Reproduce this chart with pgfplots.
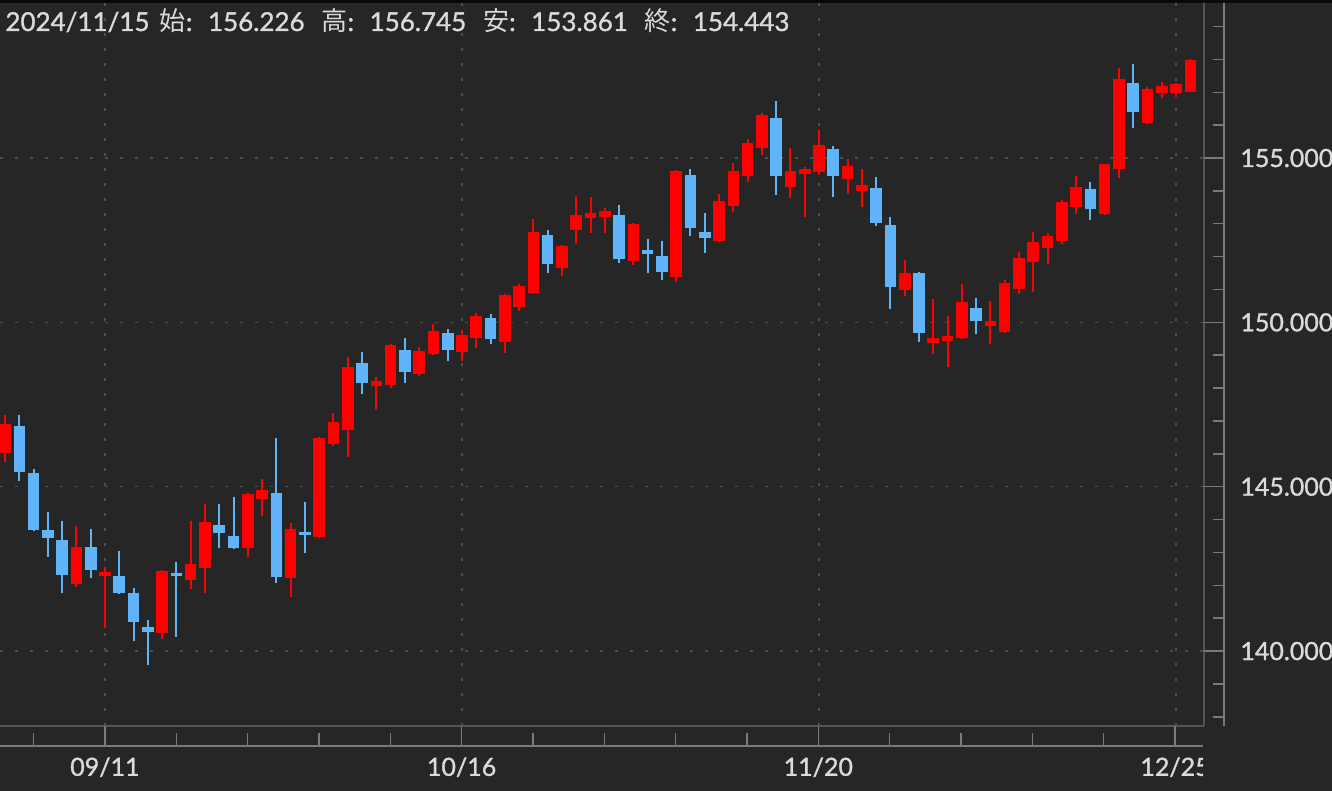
\documentclass[border=0pt]{standalone}
\usepackage{pgfplots}
\pgfplotsset{compat=1.18}
\usepackage{pgfplotstable}
\usepackage{fontspec}
\setmainfont{Lato}
\newfontfamily\medfont{Lato}[FakeBold=1.2]
\newfontfamily\cjk{Noto Sans CJK JP}
\definecolor{bg}{HTML}{262626}
\definecolor{gridc}{HTML}{4E4E4E}
\definecolor{border}{HTML}{555555}
\definecolor{axisc}{HTML}{7A7A7A}
\definecolor{txt}{HTML}{DADADA}
\definecolor{upred}{HTML}{FF0000}
\definecolor{dnblue}{HTML}{5FB4FA}

\pgfplotstableread{
i O H L C
-7 146.02 147.18 145.76 146.91
-2 142.04 143.80 141.96 143.18
0 142.29 142.57 140.69 142.41
4 140.54 142.47 140.36 142.44
6 142.16 143.97 141.88 142.65
7 142.52 144.47 141.76 143.94
10 143.13 144.80 142.87 144.78
11 144.64 145.23 144.11 144.90
13 142.21 143.90 141.64 143.70
15 143.48 146.52 143.43 146.49
16 146.29 147.23 146.25 146.96
17 146.73 148.96 145.91 148.65
19 148.06 148.35 147.33 148.22
20 148.09 149.33 147.99 149.31
22 148.43 149.26 148.38 149.14
23 149.04 149.94 149.02 149.74
25 149.11 149.77 148.83 149.62
26 149.53 150.29 149.23 150.20
28 149.41 150.85 149.06 150.83
29 150.46 151.17 150.35 151.11
30 150.88 153.14 150.86 152.74
32 151.64 152.35 151.41 152.32
33 152.81 153.84 152.38 153.27
34 153.17 153.82 152.71 153.34
35 153.21 153.47 152.71 153.39
37 151.87 153.03 151.75 152.98
40 151.39 154.63 151.24 154.61
43 152.49 153.91 152.45 153.70
44 153.55 154.84 153.37 154.61
45 154.45 155.57 154.28 155.45
46 155.30 156.36 155.09 156.31
48 154.13 155.30 153.77 154.60
49 154.51 154.72 153.21 154.66
50 154.58 155.85 154.48 155.40
52 154.35 154.96 153.91 154.77
53 154.01 154.66 153.50 154.18
56 150.98 151.90 150.80 151.51
58 149.38 150.70 149.04 149.53
59 149.44 150.19 148.63 149.58
60 149.52 151.17 149.49 150.63
62 149.90 150.65 149.34 150.04
63 149.70 151.29 149.67 151.19
64 151.01 152.15 150.86 151.95
65 151.85 152.76 150.93 152.45
66 152.25 152.73 151.78 152.63
67 152.49 153.72 152.38 153.65
68 153.50 154.45 153.30 154.13
70 153.30 154.83 153.28 154.81
71 154.67 157.73 154.40 157.39
73 156.06 157.17 156.04 157.10
74 156.99 157.32 156.82 157.19
75 156.97 157.27 156.87 157.25
76 157.02 158.00 157.00 157.98
}\up

\pgfplotstableread{
i O H L C
-6 146.85 147.18 145.17 145.46
-5 145.41 145.54 143.65 143.68
-4 143.68 144.22 142.87 143.43
-3 143.38 143.97 141.78 142.31
-1 143.16 143.70 142.21 142.47
1 142.28 143.05 141.75 141.78
2 141.78 141.91 140.32 140.87
3 140.74 140.94 139.58 140.57
5 142.38 142.72 140.44 142.28
8 143.84 144.47 143.13 143.58
9 143.50 144.70 143.10 143.13
12 144.82 146.47 142.08 142.26
14 143.61 144.54 142.97 143.53
18 148.75 149.09 147.82 148.15
21 149.16 149.53 148.16 148.50
24 149.69 149.79 148.82 149.16
27 150.12 150.24 149.33 149.48
31 152.66 152.81 151.51 151.78
36 153.27 153.57 151.80 151.92
38 152.20 152.53 151.49 152.08
39 152.02 152.49 151.29 151.54
41 154.48 154.66 152.64 152.88
42 152.76 153.32 152.10 152.56
47 156.226 156.745 153.861 154.443
51 155.27 155.35 153.82 154.45
54 154.08 154.43 152.93 153.03
55 152.96 153.21 150.40 151.07
57 151.49 151.52 149.41 149.67
61 150.45 150.73 149.64 150.04
69 154.06 154.28 153.11 153.44
72 157.27 157.86 155.90 156.39
}\dn

\begin{document}
\begin{tikzpicture}[x=0.5pt,y=0.5pt]
\useasboundingbox (0,0) rectangle (1332,791);
\fill[bg] (0,0) rectangle (1332,791);
\fill[black!75!bg] (0,788) rectangle (1332,791);

% main plot area
\begin{axis}[
  at={(0pt,32.5pt)}, anchor=south west,
  scale only axis, width=602pt, height=361.5pt,
  xmin=-7.353, xmax=76.96, ymin=137.72, ymax=159.716,
  axis x line*=bottom, axis y line*=right,
  axis line style={draw=border, line width=0.75pt, -},
  xtick={0,25,50,75}, ytick={140,145,150,155},
  xticklabels={}, yticklabels={},
  major tick length=0pt,
  grid=major,
  grid style={draw=gridc, line width=0.75pt, dash pattern=on 1.5pt off 6pt},
]
\addplot[draw=none, mark=none, forget plot,
  error bars/.cd, y dir=minus, y explicit, error mark=none,
  error bar style={draw=upred, line width=1pt}]
  table[x=i, y=H, y error minus expr=\thisrow{H}-\thisrow{L}] {\up};
\addplot[draw=none, mark=none, forget plot,
  error bars/.cd, y dir=minus, y explicit, error mark=none,
  error bar style={draw=dnblue, line width=1pt}]
  table[x=i, y=H, y error minus expr=\thisrow{H}-\thisrow{L}] {\dn};
\addplot[draw=none, mark=none, forget plot,
  error bars/.cd, y dir=minus, y explicit, error mark=none,
  error bar style={draw=upred, line width=5.8pt}]
  table[x=i, y=C, y error minus expr=\thisrow{C}-\thisrow{O}] {\up};
\addplot[draw=none, mark=none, forget plot,
  error bars/.cd, y dir=minus, y explicit, error mark=none,
  error bar style={draw=dnblue, line width=5.8pt}]
  table[x=i, y=O, y error minus expr=\thisrow{O}-\thisrow{C}] {\dn};
\end{axis}

% bottom date axis
\begin{scope}
\clip (0,0) rectangle (1203,791);
\begin{axis}[
  at={(0pt,22.5pt)}, anchor=south west,
  scale only axis, width=601.5pt, height=20pt,
  xmin=-7.353, xmax=76.96, ymin=0, ymax=1,
  axis x line*=bottom, axis y line=none,
  axis line style={draw=axisc, line width=1pt, -},
  xtick={0,25,50,75},
  xticklabels={09/11,10/16,11/20,12/25},
  minor xtick={-5,5,10,15,20,30,35,40,45,55,60,65,70},
  tick align=inside,
  major tick length=10pt, minor tick length=6.5pt,
  tick style={draw=axisc, line width=0.75pt},
  xticklabel style={font=\medfont\fontsize{12.5}{15}\selectfont, text=txt, inner sep=0pt, anchor=north, yshift=-5.5pt},
]
\end{axis}
\end{scope}

% right price axis
\begin{axis}[
  at={(612pt,32.5pt)}, anchor=south east,
  scale only axis, width=10pt, height=361.5pt,
  xmin=0, xmax=1, ymin=137.72, ymax=159.716,
  axis y line*=right, axis x line=none,
  axis line style={draw=axisc, line width=1pt, -},
  ytick={140,145,150,155},
  minor ytick={138,139,...,159},
  tick align=inside,
  major tick length=10pt, minor tick length=5.5pt,
  tick style={draw=axisc, line width=0.75pt},
  yticklabel style={font=\medfont\fontsize{12.5}{15}\selectfont, text=txt, inner sep=0pt, anchor=west, xshift=8pt,
    /pgf/number format/.cd, fixed, fixed zerofill, precision=3, 1000 sep={}, assume math mode=true},
]
\end{axis}

\node[anchor=base west, inner sep=0pt, text=txt, font=\medfont\fontsize{13}{15}\selectfont] at (5,760)
  {2024/11/15\hspace{0.4em}{\cjk 始}:\hspace{0.6em}156.226\hspace{0.65em}{\cjk 高}:\hspace{0.6em}156.745\hspace{0.65em}{\cjk 安}:\hspace{0.6em}153.861\hspace{0.65em}{\cjk 終}:\hspace{0.6em}154.443};
\end{tikzpicture}
\end{document}
